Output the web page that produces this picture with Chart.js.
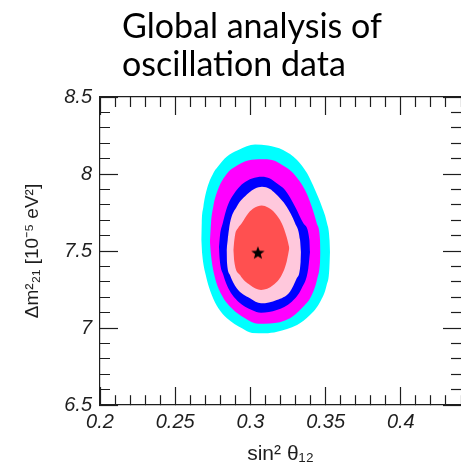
<!DOCTYPE html>
<html><head><meta charset="utf-8">
<script src="https://cdn.jsdelivr.net/npm/chart.js@4.4.1/dist/chart.umd.min.js"></script>
<style>
html,body{margin:0;padding:0;background:#fff;overflow:hidden}
#wrap{position:relative;width:461px;height:473px}
#title{position:absolute;left:122px;top:6px;font-family:Lato,'Open Sans',sans-serif;font-size:34px;line-height:37.5px;color:#000;white-space:nowrap}
canvas{position:absolute;left:0;top:0}
</style></head><body>
<div id="wrap"><canvas id="c" width="461" height="473"></canvas><div id="title"></div></div>
<script>
// ---- text ----
const titleLines = ['Global analysis of', 'oscillation data'];
const xLabel = 'sin² θ₁₂';
const yLabel = 'Δm²₂₁ [10⁻⁵ eV²]';

// ---- axes ----
const xRange = [0.2, 0.44];
const yRange = [6.5, 8.5];
const xSteps = [0.05, 0.01];   // major, minor
const ySteps = [0.5, 0.1];

// ---- best fit ----
const bestFit = [0.305, 7.49];

// ---- contour regions: upper and lower boundaries [sin2theta, dm2] ----
const cyanUpper = [[0.2673,7.571],[0.2676,7.682],[0.2687,7.786],[0.2709,7.896],[0.2753,8.005],[0.2783,8.047],[0.2842,8.112],[0.2920,8.156],[0.3031,8.192],[0.3117,8.185],[0.3217,8.156],[0.3310,8.091],[0.3376,8.006],[0.3430,7.896],[0.3476,7.786],[0.3509,7.682],[0.3526,7.571],[0.3529,7.494]];
const cyanLower = [[0.2673,7.571],[0.2680,7.474],[0.2703,7.344],[0.2743,7.214],[0.2787,7.128],[0.2844,7.063],[0.2944,6.998],[0.3011,6.968],[0.3097,6.966],[0.3177,6.976],[0.3310,7.019],[0.3396,7.084],[0.3463,7.169],[0.3507,7.279],[0.3525,7.390],[0.3529,7.494]];
const magentaUpper = [[0.2731,7.558],[0.2738,7.680],[0.2753,7.788],[0.2783,7.896],[0.2846,8.005],[0.2898,8.047],[0.2984,8.088],[0.3077,8.095],[0.3144,8.091],[0.3230,8.047],[0.3285,8.005],[0.3363,7.896],[0.3408,7.788],[0.3441,7.680],[0.3463,7.571],[0.3466,7.494]];
const magentaLower = [[0.2731,7.558],[0.2738,7.474],[0.2760,7.344],[0.2809,7.214],[0.2876,7.128],[0.2964,7.063],[0.3051,7.028],[0.3130,7.029],[0.3263,7.063],[0.3341,7.128],[0.3408,7.214],[0.3445,7.323],[0.3463,7.431],[0.3466,7.494]];
const blueUpper = [[0.2791,7.526],[0.2798,7.604],[0.2816,7.680],[0.2846,7.788],[0.2909,7.896],[0.2953,7.940],[0.3011,7.971],[0.3077,7.982],[0.3130,7.971],[0.3175,7.940],[0.3230,7.896],[0.3297,7.788],[0.3352,7.680],[0.3392,7.571],[0.3396,7.494]];
const blueLower = [[0.2791,7.526],[0.2795,7.455],[0.2820,7.344],[0.2853,7.258],[0.2920,7.171],[0.3009,7.117],[0.3071,7.099],[0.3175,7.117],[0.3275,7.171],[0.3341,7.258],[0.3385,7.388],[0.3396,7.494]];
const pinkUpper = [[0.2841,7.506],[0.2849,7.571],[0.2864,7.680],[0.2909,7.788],[0.2986,7.875],[0.3031,7.906],[0.3077,7.918],[0.3130,7.903],[0.3164,7.875],[0.3241,7.788],[0.3297,7.680],[0.3330,7.571],[0.3336,7.494]];
const pinkLower = [[0.2841,7.506],[0.2844,7.429],[0.2864,7.344],[0.2909,7.258],[0.2997,7.193],[0.3071,7.160],[0.3175,7.182],[0.3263,7.236],[0.3308,7.323],[0.3334,7.431],[0.3336,7.494]];
const redUpper = [[0.2886,7.506],[0.2898,7.604],[0.2918,7.649],[0.2942,7.680],[0.2986,7.745],[0.3024,7.779],[0.3075,7.795],[0.3117,7.782],[0.3164,7.745],[0.3208,7.680],[0.3241,7.591],[0.3259,7.519]];
const redLower = [[0.2886,7.506],[0.2893,7.431],[0.2931,7.344],[0.2997,7.279],[0.3071,7.247],[0.3152,7.279],[0.3208,7.344],[0.3241,7.431],[0.3259,7.519]];

const regions = [
  {upper: redUpper, lower: redLower, color: '#ff5050'},
  {upper: pinkUpper, lower: pinkLower, color: '#ffc8dc'},
  {upper: blueUpper, lower: blueLower, color: '#0000ff'},
  {upper: magentaUpper, lower: magentaLower, color: '#ff00ff'},
  {upper: cyanUpper, lower: cyanLower, color: '#00ffff'}
];

document.getElementById('title').innerHTML = titleLines.join('<br>');

const AXIS = '#1e1e1e';
const TICK = 18, MINOR = 10;
const isMajor = (v, step) => Math.abs(v / step - Math.round(v / step)) < 1e-6;
const fmt = v => String(+v.toFixed(3));
const dashFromBorder = step => ctx => isMajor(ctx.tick.value, step) ? [] : [MINOR, 200];
const dashFromInside = step => ctx => isMajor(ctx.tick.value, step) ? [] : [0, TICK - MINOR, MINOR, 200];
const toPts = arr => arr.map(p => ({x: p[0], y: p[1]}));

function makeStar(size) {
  const c = document.createElement('canvas');
  c.width = c.height = size;
  const g = c.getContext('2d');
  const cx = size / 2, cy = size / 2 + size * 0.05, R = size / 2, r = R * 0.42;
  g.beginPath();
  for (let i = 0; i < 10; i++) {
    const a = -Math.PI / 2 + i * Math.PI / 5;
    const rad = i % 2 ? r : R;
    g.lineTo(cx + rad * Math.cos(a), cy + rad * Math.sin(a));
  }
  g.closePath(); g.fillStyle = '#000'; g.fill();
  return c;
}

const datasets = [{
  data: [{x: bestFit[0], y: bestFit[1]}],
  showLine: false, pointStyle: makeStar(14), pointRadius: 7, pointHoverRadius: 7,
  borderColor: '#000', backgroundColor: '#000'
}];
regions.forEach(r => {
  const lowerIndex = datasets.length + 1;
  datasets.push({
    data: toPts(r.upper), borderWidth: 0, borderColor: 'rgba(0,0,0,0)', backgroundColor: r.color,
    fill: {target: lowerIndex, above: r.color, below: r.color},
    pointRadius: 0, pointHoverRadius: 0, cubicInterpolationMode: 'monotone'
  });
  datasets.push({
    data: toPts(r.lower), borderWidth: 0, borderColor: 'rgba(0,0,0,0)', backgroundColor: r.color,
    fill: false, pointRadius: 0, pointHoverRadius: 0, cubicInterpolationMode: 'monotone'
  });
});

const tickFont = {family: "'Liberation Sans', Arial, sans-serif", size: 20, style: 'italic'};
const titleFont = {family: "'Liberation Sans', Arial, sans-serif", size: 19};
const xTitleFont = {family: "'Liberation Sans', Arial, sans-serif", size: 21};
const gridOpts = dash => ({drawOnChartArea: false, drawTicks: true, tickLength: -TICK, tickColor: AXIS, tickWidth: 1.2, tickBorderDash: dash});
const border = show => ({display: show, color: AXIS, width: 1.2});
const noPad = s => { s.paddingLeft = 0; s.paddingRight = 0; s.paddingTop = 0; s.paddingBottom = 0; };

new Chart(document.getElementById('c'), {
  type: 'line',
  data: {datasets},
  options: {
    responsive: false, animation: false, events: [],
    layout: {autoPadding: false, padding: {top: 97, left: 0, right: 0, bottom: 0}},
    plugins: {legend: {display: false}, tooltip: {enabled: false}, title: {display: false}},
    scales: {
      x: {
        type: 'linear', position: 'bottom', min: xRange[0], max: xRange[1],
        grid: gridOpts(dashFromBorder(xSteps[0])), border: border(true),
        ticks: {stepSize: xSteps[1], autoSkip: false, maxRotation: 0, minRotation: 0, includeBounds: false, maxTicksLimit: 1000,
          padding: 23, font: tickFont, color: AXIS, callback: v => isMajor(v, xSteps[0]) ? fmt(v) : ''},
        title: {display: true, text: xLabel, font: xTitleFont, color: AXIS, padding: {top: 0, bottom: 6}},
        afterFit: s => { s.height = 68; noPad(s); }
      },
      xTop: {
        type: 'linear', position: 'top', min: xRange[0], max: xRange[1],
        grid: gridOpts(dashFromInside(xSteps[0])), border: border(true),
        ticks: {display: false, stepSize: xSteps[1], autoSkip: false, includeBounds: false, maxTicksLimit: 1000},
        afterFit: s => { s.height = 0; noPad(s); }
      },
      y: {
        type: 'linear', position: 'left', min: yRange[0], max: yRange[1],
        grid: gridOpts(dashFromInside(ySteps[0])), border: border(true),
        ticks: {stepSize: ySteps[1], autoSkip: false, includeBounds: false, maxTicksLimit: 1000,
          padding: 26, font: tickFont, color: AXIS, callback: v => isMajor(v, ySteps[0]) ? fmt(v) : ''},
        title: {display: true, text: yLabel, font: titleFont, color: AXIS, padding: {top: 21, bottom: 0}},
        afterFit: s => { s.width = 100; noPad(s); }
      },
      yRight: {
        type: 'linear', position: 'right', min: yRange[0], max: yRange[1],
        grid: gridOpts(dashFromBorder(ySteps[0])), border: border(false),
        ticks: {display: false, stepSize: ySteps[1], autoSkip: false, includeBounds: false, maxTicksLimit: 1000},
        afterFit: s => { s.width = 0; noPad(s); }
      }
    }
  }
});
</script>
</body></html>
